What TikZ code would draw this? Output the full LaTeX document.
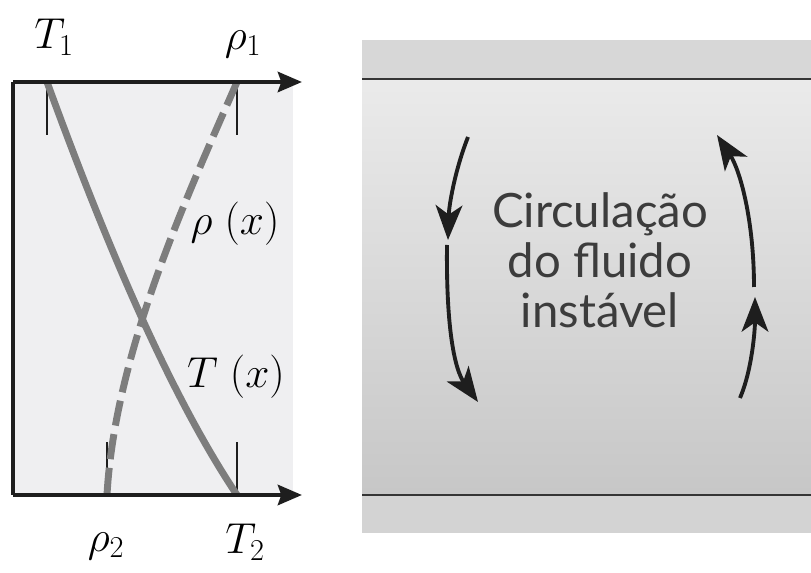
\RequirePackage{fix-cm}
\documentclass[tikz,border=0pt]{standalone}
\usepackage{fontspec}
\usetikzlibrary{arrows.meta}
\newfontfamily\circfont{Lato}
\definecolor{axisc}{HTML}{1E1E1E}
\definecolor{curvec}{HTML}{7D7D7D}
\definecolor{panelfill}{HTML}{EFEFF1}
\definecolor{stripc}{HTML}{D7D7D7}
\definecolor{txtc}{HTML}{3C3C3C}
\tikzset{
  axisline/.style={line width=3.6pt, color=axisc},
  axisarrow/.style={axisline, -{Stealth[length=18pt,width=15pt,inset=2.5pt]}},
  tickline/.style={line width=1.6pt, color=axisc},
  tcurve/.style={line width=5.2pt, color=curvec},
  rhocurve/.style={line width=5.2pt, color=curvec, dash pattern=on 19pt off 6.5pt},
  mathlbl/.style={font=\fontsize{32.5}{38}\selectfont, inner sep=0pt},
  flowarrow/.style={line width=2.9pt, color=axisc, -{Stealth[length=26pt,width=20pt,inset=7pt]}},
  wallline/.style={line width=2.2pt, color=axisc!90!white},
}
\begin{document}
\begin{tikzpicture}[x=0.75pt,y=-0.75pt]
\useasboundingbox (0,0) rectangle (811,573);
% ---------- left panel ----------
\fill[panelfill] (13,82) rectangle (293,495);
\coordinate (TL) at (13,82);
\coordinate (BL) at (13,495);
\coordinate (TR) at (302,82);
\coordinate (BR) at (302,495);
% ticks
\coordinate (t1a) at (47,82);  \coordinate (t1b) at (47,135);
\coordinate (r1a) at (237,82); \coordinate (r1b) at (237,135);
\coordinate (t2a) at (237,495); \coordinate (t2b) at (237,442);
\coordinate (r2a) at (107,495); \coordinate (r2b) at (107,442);
\draw[tickline] (t1a) -- (t1b);
\draw[tickline] (r1a) -- (r1b);
\draw[tickline] (t2a) -- (t2b);
\draw[tickline] (r2a) -- (r2b);
% curves
\draw[tcurve] (t1a) .. controls (92,205) and (160,380) .. (t2a);
\draw[rhocurve] (r1a) .. controls (190,190) and (115,350) .. (r2a);
% axes
\draw[axisline] (BL) -- (TL);
\draw[axisarrow] (TL) -- (TR);
\draw[axisarrow] (BL) -- (BR);
% labels
\node[mathlbl] (T1) at (54,37) {$T_1$};
\node[mathlbl] (R1) at (243,44) {$\rho_1$};
\node[mathlbl] (Rx) at (235,224) {$\rho\;(x)$};
\node[mathlbl] (Tx) at (236,377) {$T\;(x)$};
\node[mathlbl] (R2) at (106,546) {$\rho_2$};
\node[mathlbl] (T2) at (245,542) {$T_2$};
% ---------- right panel ----------
\fill[stripc] (362,40) rectangle (811,79);
\shade[top color=white!92!black, bottom color=white!78!black] (362,79) rectangle (811,495);
\fill[stripc!98!black] (362,495) rectangle (811,533);
\coordinate (wt1) at (362,79); \coordinate (wt2) at (811,79);
\coordinate (wb1) at (362,495); \coordinate (wb2) at (811,495);
\draw[wallline] (wt1) -- (wt2);
\draw[wallline] (wb1) -- (wb2);
\node[align=center, font=\circfont\fontsize{35.5}{37.5}\selectfont, text=txtc, inner sep=0pt] (txt) at (600,260) {Circulação\\do fluido\\instável};
% flow arrows
\coordinate (la) at (468,137); \coordinate (lb) at (448,240);
\coordinate (lc) at (447,245); \coordinate (ld) at (478,402);
\coordinate (ra) at (740,398); \coordinate (rb) at (755,297);
\coordinate (rc) at (754,287); \coordinate (rd) at (717,135);
\draw[flowarrow] (la) .. controls (455,170) and (449,205) .. (lb);
\draw[flowarrow] (lc) .. controls (446,330) and (455,370) .. (ld);
\draw[flowarrow] (ra) .. controls (752,370) and (755,330) .. (rb);
\draw[flowarrow] (rc) .. controls (754,220) and (740,170) .. (rd);
\end{tikzpicture}
\end{document}
